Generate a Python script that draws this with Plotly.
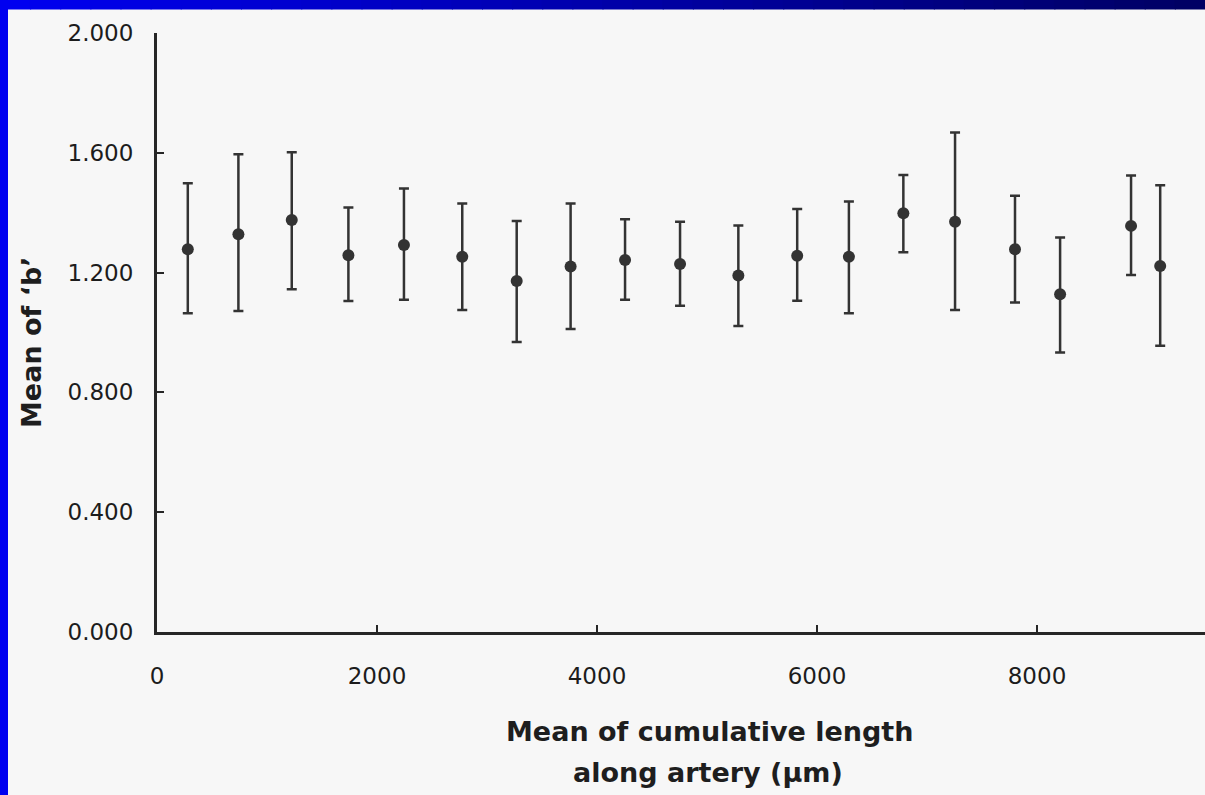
import plotly.graph_objects as go

# ---- data ----
cum_length = [280, 740, 1225, 1740, 2245, 2775, 3270, 3760, 4255, 4755,
              5285, 5820, 6290, 6785, 7255, 7800, 8210, 8855, 9120]
mean_b = [1.278, 1.328, 1.376, 1.258, 1.292, 1.253, 1.172, 1.220, 1.242, 1.229,
          1.190, 1.256, 1.253, 1.398, 1.370, 1.278, 1.128, 1.356, 1.222]
upper_b = [1.498, 1.595, 1.602, 1.417, 1.481, 1.431, 1.372, 1.431, 1.378, 1.370,
           1.357, 1.412, 1.437, 1.526, 1.668, 1.457, 1.317, 1.524, 1.492]
lower_b = [1.064, 1.072, 1.144, 1.105, 1.109, 1.075, 0.968, 1.012, 1.109, 1.089,
           1.022, 1.106, 1.064, 1.268, 1.075, 1.100, 0.933, 1.192, 0.956]

x_ticks = [0, 2000, 4000, 6000, 8000]
y_ticks = [0.0, 0.4, 0.8, 1.2, 1.6, 2.0]
x_title_1 = "Mean of cumulative length"
x_title_2 = "along artery (µm)"
y_title = "Mean of \u2018b\u2019"

# ---- layout geometry (pixels) ----
W, H = 1205, 795
L, R, T, B = 157, 0, 33, 163
PW, PH = W - L - R, H - T - B


def px_x(px):
    return (px - L) / PW


def px_y(py):
    return (H - B - py) / PH


err_plus = [u - m for u, m in zip(upper_b, mean_b)]
err_minus = [m - l for m, l in zip(mean_b, lower_b)]

ink = "#262626"

fig = go.Figure()
fig.add_trace(go.Scatter(
    x=cum_length, y=mean_b, mode="markers",
    marker=dict(size=12, color="#333333"),
    error_y=dict(type="data", symmetric=False, array=err_plus,
                 arrayminus=err_minus, color="#333333", thickness=2.5, width=5),
    showlegend=False,
))

font_main = "DejaVu Sans, Liberation Sans, Arial, sans-serif"

fig.update_layout(
    width=W, height=H,
    margin=dict(l=L, r=R, t=T, b=B, pad=0),
    paper_bgcolor="#f7f7f7", plot_bgcolor="#f7f7f7",
    xaxis=dict(range=[0, 2000 * PW / 220], tickvals=x_ticks,
               ticktext=[str(v) for v in x_ticks],
               showgrid=False, zeroline=False, showline=True,
               linecolor=ink, linewidth=3, ticks="inside", ticklen=7,
               tickwidth=2, tickcolor=ink, ticklabelstandoff=21,
               tickfont=dict(family=font_main, size=23, color="#1c1c1c")),
    yaxis=dict(range=[0, 2.0], tickvals=y_ticks,
               ticktext=[f"{v:.3f}" for v in y_ticks],
               showgrid=False, zeroline=False, showline=True,
               linecolor=ink, linewidth=3, ticks="inside", ticklen=7,
               tickwidth=2, tickcolor=ink, ticklabelstandoff=16,
               tickfont=dict(family=font_main, size=23, color="#1c1c1c")),
)

# axis titles as annotations for precise placement
fig.add_annotation(text=x_title_1, xref="paper", yref="paper",
                   x=px_x(710), y=px_y(731), showarrow=False,
                   xanchor="center", yanchor="middle",
                   font=dict(family=font_main, size=27, color="#1e1e1e",
                             weight="bold"))
fig.add_annotation(text=x_title_2, xref="paper", yref="paper",
                   x=px_x(708), y=px_y(772), showarrow=False,
                   xanchor="center", yanchor="middle",
                   font=dict(family=font_main, size=27, color="#1e1e1e",
                             weight="bold"))
fig.add_annotation(text=y_title, xref="paper", yref="paper",
                   x=px_x(32), y=px_y(342), showarrow=False, textangle=-90,
                   xanchor="center", yanchor="middle",
                   font=dict(family=font_main, size=27, color="#1e1e1e",
                             weight="bold"))

# blue slide frame: left strip and top gradient bar
fig.add_shape(type="rect", xref="paper", yref="paper",
              x0=px_x(0), x1=px_x(8), y0=px_y(H), y1=px_y(0),
              fillcolor="#0000f0", line_width=0, layer="above")
n_seg = 40
c0 = (0, 0, 240)
c1 = (0, 0, 100)
for i in range(n_seg):
    f = i / (n_seg - 1)
    col = "rgb({},{},{})".format(*[round(a + (b - a) * f) for a, b in zip(c0, c1)])
    xa = i * W / n_seg
    xb = (i + 1) * W / n_seg + 1.0
    fig.add_shape(type="rect", xref="paper", yref="paper",
                  x0=px_x(xa), x1=px_x(xb), y0=px_y(9), y1=px_y(0),
                  fillcolor=col, line=dict(color=col, width=1), layer="above")

fig.write_html(
    "out.html",
    config={"displayModeBar": False},
    post_script="document.body.style.margin='0px';"
                "document.body.style.overflow='hidden';",
)
